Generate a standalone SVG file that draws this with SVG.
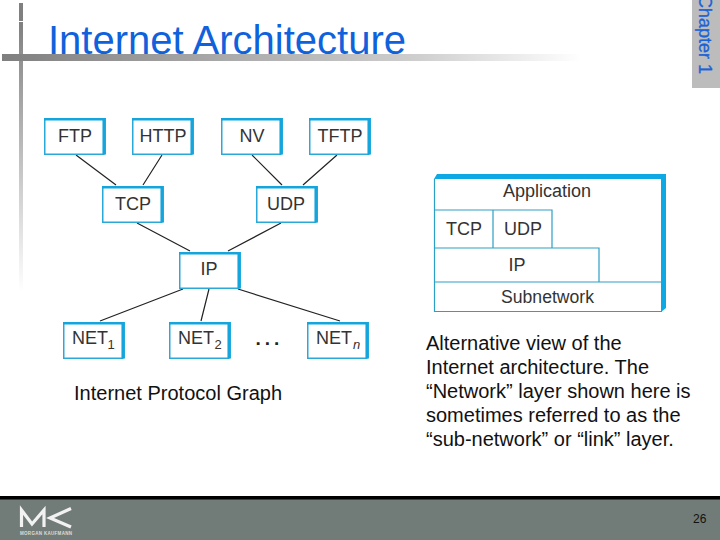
<svg xmlns="http://www.w3.org/2000/svg" width="720" height="540" viewBox="0 0 720 540">
<style>
text{font-family:"Liberation Sans",Arial,sans-serif}
.lb{font-size:18px;fill:#333;text-anchor:middle}
.sb{font-size:13px;fill:#333}
.body{font-size:20px;fill:#111}
.face{fill:#fff;stroke:#2aa8d8;stroke-width:1.5}
.top{fill:none;stroke:#14a5dc;stroke-width:2.5}
.side{fill:none;stroke:#14a5dc;stroke-width:3.5}
.c{stroke:#222;stroke-width:1.2;fill:none}
.cell{fill:none;stroke:#2c9fc4;stroke-width:1.2}
</style>
<defs>
<linearGradient id="hbar" x1="0" x2="1" y1="0" y2="0"><stop offset="0" stop-color="#7f7f7f"/><stop offset="0.72" stop-color="#cfcfcf"/><stop offset="1" stop-color="#fff"/></linearGradient>
<linearGradient id="vbar" x1="0" x2="0" y1="0" y2="1"><stop offset="0" stop-color="#808080"/><stop offset="1" stop-color="#fff"/></linearGradient>
<g id="box"><rect class="face" x="0.75" y="0.75" width="59" height="35.5"/><path class="top" d="M0 1.2H60"/><path class="side" d="M60.2 0V36.5"/></g>
</defs>
<g id="decor">
<rect x="19" y="3" width="4" height="18" fill="#808080"/>
<rect x="19" y="22" width="4" height="270" fill="url(#vbar)"/>
<rect x="2" y="54" width="580" height="7" fill="url(#hbar)"/>
</g>
<text id="title" x="48" y="54" font-size="40" fill="#0f62dc">Internet Architecture</text>
<g id="tab"><rect x="692" y="0" width="28" height="88" fill="#bcbcbc"/><text transform="translate(699,-5) rotate(90)" font-size="18" font-weight="400" stroke="#1a62d8" stroke-width="0.3" fill="#1a62d8">Chapter 1</text></g>
<g id="connectors">
<path class="c" d="M76 155L116 185M162 155L143 185M252 155L282 185M337 155L303 185M137 223L190 251M281 223L228 251M183 289L100 321M209 289L201 321M238 289L340 321"/>
</g>
<g id="ftp"><use href="#box" x="44" y="118"/><text class="lb" x="75" y="142">FTP</text></g>
<g id="http"><use href="#box" x="132" y="118"/><text class="lb" x="163" y="142">HTTP</text></g>
<g id="nv"><use href="#box" x="221" y="118"/><text class="lb" x="252" y="142">NV</text></g>
<g id="tftp"><use href="#box" x="309" y="118"/><text class="lb" x="340" y="142">TFTP</text></g>
<g id="tcp"><use href="#box" x="102" y="186"/><text class="lb" x="133" y="210">TCP</text></g>
<g id="udp"><use href="#box" x="256" y="186"/><text class="lb" x="286" y="210">UDP</text></g>
<g id="ip"><use href="#box" x="179" y="252"/><text class="lb" x="209" y="275">IP</text></g>
<g id="net1"><use href="#box" x="63" y="322"/><text class="lb" x="90" y="344">NET</text><text class="sb" x="107.500" y="349">1</text></g>
<g id="net2"><use href="#box" x="169" y="322"/><text class="lb" x="196" y="344">NET</text><text class="sb" x="214.500" y="349">2</text></g>
<g id="netn"><use href="#box" x="307" y="322"/><text class="lb" x="334" y="344">NET</text><text class="sb" x="353" y="349" font-style="italic">n</text></g>
<text id="dots" x="255.500" y="345" font-size="19" fill="#222" font-weight="bold" letter-spacing="4">...</text>
<text id="cap1" class="body" x="74" y="400" textLength="208">Internet Protocol Graph</text>
<g id="stack">
<path class="cell" d="M434.500 179V311.500H662M434 210H552V248M493 210V248M434 248H599V282M434 282H662"/>
<path d="M434 179L437 174H666V308L661 312V179Z" fill="#0ea8e4"/>
<text class="lb" x="547" y="197">Application</text>
<text class="lb" x="464" y="235">TCP</text>
<text class="lb" x="523" y="235">UDP</text>
<text class="lb" x="517" y="271">IP</text>
<text class="lb" x="547.500" y="303" textLength="93" lengthAdjust="spacingAndGlyphs">Subnetwork</text>
</g>
<g id="cap2">
<text class="body" x="426" y="350">Alternative view of the</text>
<text class="body" x="426" y="374">Internet architecture. The</text>
<text class="body" x="426" y="398">“Network” layer shown here is</text>
<text class="body" x="426" y="422">sometimes referred to as the</text>
<text class="body" x="426" y="446">“sub-network” or “link” layer.</text>
</g>
<g id="footer">
<rect x="0" y="499" width="720" height="41" fill="#717c78"/>
<rect x="0" y="496" width="720" height="3.500" fill="#000"/>
<path d="M21.500 527V510L32 524L44 510V527M71 508.500L50 518L71 527" fill="none" stroke="#f2f2f2" stroke-width="3.200"/>
<text x="20" y="535" font-size="4.500" font-weight="bold" fill="#ddd" textLength="52">MORGAN KAUFMANN</text>
<text x="693" y="523" font-size="12" fill="#111">26</text>
</g>
</svg>
